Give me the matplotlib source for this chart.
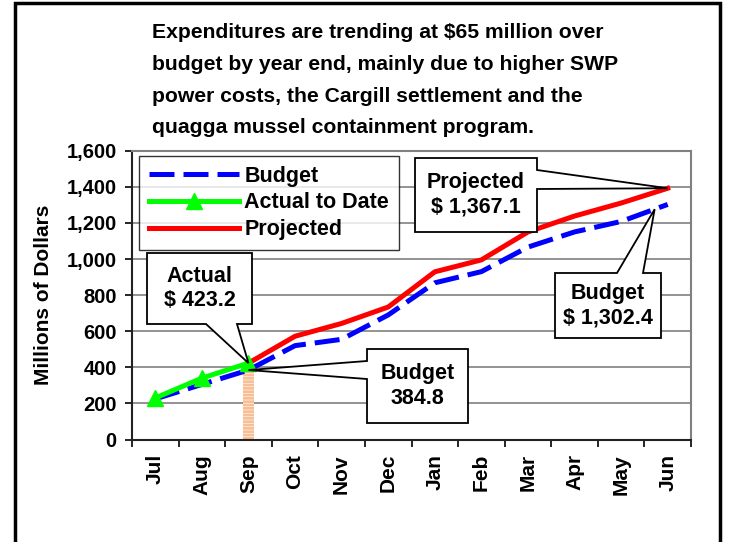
import numpy as np
import matplotlib
matplotlib.use("Agg")
import matplotlib.pyplot as plt
from matplotlib.patches import Polygon, Rectangle
from matplotlib.ticker import FuncFormatter

plt.rcParams['font.family'] = ['Liberation Sans', 'DejaVu Sans']
plt.rcParams['font.weight'] = 'bold'
plt.rcParams['hatch.linewidth'] = 2.0

W, H = 730, 542

months = ['Jul', 'Aug', 'Sep', 'Oct', 'Nov', 'Dec', 'Jan', 'Feb', 'Mar', 'Apr', 'May', 'Jun']
budget = [225, 305, 384.8, 520, 555, 690, 868, 930, 1066, 1150, 1208, 1302.4]
actual = [230, 340, 423.2]
projected = [423.2, 572, 643, 734, 929, 995, 1150, 1238, 1310, 1392]  # Sep..Jun

title_lines = [
    "Expenditures are trending at $65 million over",
    "budget by year end, mainly due to higher SWP",
    "power costs, the Cargill settlement and the",
    "quagga mussel containment program.",
]

fig = plt.figure(figsize=(W / 100, H / 100), dpi=100)
fig.patch.set_facecolor('white')

# outer frame (bottom edge runs off the picture)
fig.patches.append(Rectangle((14.5 / W, -0.05), (720 - 14.5) / W, 1.05 - 3 / H,
                             transform=fig.transFigure, fill=False,
                             edgecolor='black', linewidth=2.5, clip_on=False))

for i, line in enumerate(title_lines):
    fig.text(152 / W, 1 - (33 + i * 31.5) / H, line, fontsize=15.2,
             fontweight='bold', ha='left', va='center')

ax = fig.add_axes([132 / W, 1 - 439.5 / H, 559 / W, (439.5 - 150.7) / H])
x = np.arange(len(months))

ax.set_xlim(-0.5, 11.5)
ax.set_ylim(0, 1600)
ax.set_yticks(np.arange(0, 1601, 200))
ax.yaxis.set_major_formatter(FuncFormatter(lambda v, p: f"{int(v):,}"))
ax.set_xticks(x)
ax.set_xticklabels(months, rotation=90, fontsize=15, fontweight='bold')
ax.set_xticks(np.arange(-0.5, 12, 1), minor=True)
ax.tick_params(axis='x', which='major', length=0, pad=10.5)
ax.tick_params(axis='x', which='minor', length=5, width=1.2, direction='out')
ax.tick_params(axis='y', length=5, width=1.2, direction='out', labelsize=14.5, pad=6)
for lab in ax.get_yticklabels():
    lab.set_fontweight('bold')
ax.set_ylabel('Millions of Dollars', fontsize=15, fontweight='bold', labelpad=10)

ax.grid(axis='y', color='#808080', linewidth=1.2, zorder=0)
ax.set_axisbelow(True)
for s in ['left', 'bottom']:
    ax.spines[s].set_color('#222222')
    ax.spines[s].set_linewidth(1.5)
for s in ['top', 'right']:
    ax.spines[s].set_color('#808080')
    ax.spines[s].set_linewidth(1.5)

ax.bar(2, actual[2], width=0.22, facecolor='white', edgecolor='#F8BE94',
       hatch='-----', linewidth=0, zorder=2)

ax.plot(x, budget, color='#0000FF', linewidth=3.6, dashes=(5, 1.8),
        label='Budget', zorder=3)
ax.plot(x[len(actual) - 1:], projected, color='#FF0000', linewidth=3.6,
        solid_joinstyle='round', label='Projected', zorder=4)
ax.plot(x[:len(actual)], actual, color='#00FF00', linewidth=3.6, marker='^',
        markersize=12, label='Actual to Date', zorder=5)

handles, labels = ax.get_legend_handles_labels()
order = [0, 2, 1]
leg = ax.legend([handles[i] for i in order], [labels[i] for i in order],
                loc='upper left', bbox_to_anchor=(7 / 559, 1 - 5.5 / 288.8),
                fontsize=15.5, frameon=True, fancybox=False, handlelength=4.2,
                handletextpad=0.25, borderpad=0.45, labelspacing=0.26,
                borderaxespad=0)
leg.get_frame().set_edgecolor('black')
leg.get_frame().set_linewidth(1.0)
for t in leg.get_texts():
    t.set_fontweight('bold')


def to_px(xd, yd):
    dx, dy = ax.transData.transform((xd, yd))
    return dx, H - dy


def callout(box, side, base, tip, text):
    x0, y0, x1, y1 = box
    t = to_px(*tip)
    pts = [(x0, y0)]
    if side == 'top':
        pts += [(base[0], y0), t, (base[1], y0)]
    pts.append((x1, y0))
    if side == 'right':
        pts += [(x1, base[0]), t, (x1, base[1])]
    pts.append((x1, y1))
    if side == 'bottom':
        pts += [(base[1], y1), t, (base[0], y1)]
    pts.append((x0, y1))
    if side == 'left':
        pts += [(x0, base[1]), t, (x0, base[0])]
    verts = [(px / W, 1 - py / H) for px, py in pts]
    fig.patches.append(Polygon(verts, closed=True, facecolor='white',
                               edgecolor='black', linewidth=1.3,
                               transform=fig.transFigure, zorder=10))
    fig.text((x0 + x1) / 2 / W, 1 - (y0 + y1) / 2 / H, text, fontsize=15.5,
             fontweight='bold', ha='center', va='center', linespacing=1.25,
             zorder=11)


callout((147, 253, 252, 324), 'bottom', (206, 237), (2, actual[2]),
        "Actual\n$ 423.2")
callout((367, 349, 468, 423), 'left', (361, 379), (2, budget[2]),
        "Budget\n384.8")
callout((415, 158, 537, 232), 'right', (170, 189), (11, projected[-1]),
        "Projected\n$ 1,367.1")
callout((555, 273, 661, 338), 'top', (617, 643),
        (10.72, np.interp(10.72, x, budget)), "Budget\n$ 1,302.4")

fig.savefig('out.png', dpi=100)
